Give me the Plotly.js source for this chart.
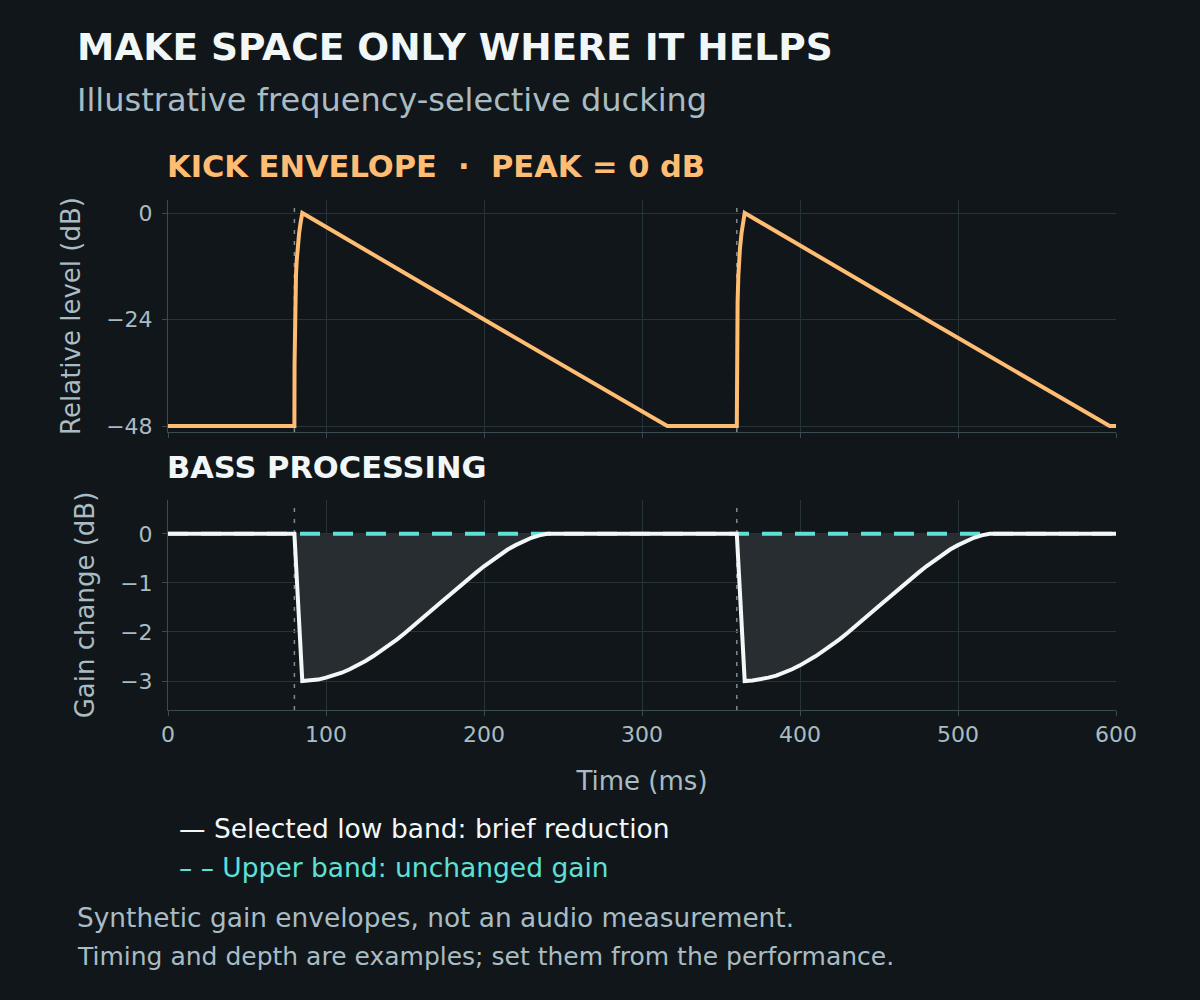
<!DOCTYPE html>
<html>
<head>
<meta charset="utf-8">
<script src="https://cdn.plot.ly/plotly-3.0.1.min.js"></script>
<style>
  html, body { margin: 0; padding: 0; background: #11161a; }
  #chart { width: 1200px; height: 1000px; }
</style>
</head>
<body>
<div id="chart"></div>
<script>
// kick envelope (ms, dB)
const kickTime = [0, 80, 80.1, 80.25, 80.5, 81, 81.5, 82, 83, 84, 85, 200, 316,
                  360, 360.1, 360.25, 360.5, 361, 361.5, 362, 363, 364, 365, 480, 596, 600];
const kickLevel = [-48, -48, -34, -26, -20, -14, -10.5, -8, -4.5, -2, 0, -24, -48,
                   -48, -34, -26, -20, -14, -10.5, -8, -4.5, -2, 0, -24, -48, -48];

// low band gain change (ms, dB)
const lowTime = [0, 80, 85, 90, 95, 100, 105, 110, 115, 120, 125, 130, 135, 140, 145, 150, 155, 160,
                 165, 170, 175, 180, 185, 190, 195, 200, 205, 210, 215, 220, 225, 230, 235, 240,
                 360, 365, 370, 375, 380, 385, 390, 395, 400, 405, 410, 415, 420, 425, 430, 435, 440,
                 445, 450, 455, 460, 465, 470, 475, 480, 485, 490, 495, 500, 505, 510, 515, 520, 600];
const lowGain = [0, 0, -3, -2.99, -2.97, -2.93, -2.89, -2.83, -2.76, -2.68, -2.59, -2.49, -2.38, -2.27, -2.15, -2.02, -1.89, -1.75,
                 -1.61, -1.47, -1.33, -1.19, -1.05, -0.92, -0.79, -0.66, -0.54, -0.43, -0.32, -0.23, -0.15, -0.08, -0.03, 0,
                 0, -3, -2.99, -2.97, -2.93, -2.89, -2.83, -2.76, -2.68, -2.59, -2.49, -2.38, -2.27, -2.15, -2.02, -1.89, -1.75,
                 -1.61, -1.47, -1.33, -1.19, -1.05, -0.92, -0.79, -0.66, -0.54, -0.43, -0.32, -0.23, -0.15, -0.08, -0.03, 0, 0];

// upper band stays flat
const upperTime = [0, 600];
const upperGain = [0, 0];

const kickOnsets = [80, 360];

const bg = '#11161a';
const gridColor = '#26343a';
const axisColor = '#3c4b51';
const mutedText = '#a9bcc3';
const orange = '#ffbd73';
const cyan = '#5fe0d6';
const white = '#f3f7f7';
const font = 'DejaVu Sans, sans-serif';

const data = [
    {
        x: kickTime, y: kickLevel, xaxis: 'x', yaxis: 'y',
        mode: 'lines', line: {color: orange, width: 4},
        hoverinfo: 'skip'
    },
    {
        x: lowTime, y: lowGain, xaxis: 'x2', yaxis: 'y2',
        mode: 'lines', line: {width: 0}, fill: 'tozeroy', fillcolor: '#272d31',
        hoverinfo: 'skip'
    },
    {
        x: upperTime, y: upperGain, xaxis: 'x2', yaxis: 'y2',
        mode: 'lines', line: {color: cyan, width: 4, dash: '20px,13px'},
        hoverinfo: 'skip'
    },
    {
        x: lowTime, y: lowGain, xaxis: 'x2', yaxis: 'y2',
        mode: 'lines', line: {color: white, width: 4},
        hoverinfo: 'skip'
    }
];

const shapes = [];
kickOnsets.forEach(t => {
    ['y', 'y2'].forEach(ax => {
        shapes.push({
            type: 'line', xref: ax === 'y' ? 'x' : 'x2', yref: ax + ' domain',
            x0: t, x1: t, y0: 0, y1: 0.99,
            line: {color: '#7d8d93', width: 1.5, dash: '4px,7px'},
            layer: 'below'
        });
    });
});

const axisCommon = {
    showgrid: true, gridcolor: gridColor, gridwidth: 1,
    showline: true, linecolor: axisColor, linewidth: 1,
    ticks: 'outside', ticklen: 5, tickcolor: axisColor,
    tickfont: {family: font, size: 22, color: mutedText},
    zeroline: false
};

// plot area spans 200..710 px, so paper y = (710 - py) / 510
function py(p) { return (710 - p) / 510; }
function px(p) { return (p - 3 - 168) / 948; }

function note(text, x, y, size, color, bold) {
    return {
        text: bold ? '<b>' + text + '</b>' : text,
        xref: 'paper', yref: 'paper', x: px(x), y: py(y),
        xanchor: 'left', yanchor: 'middle', showarrow: false,
        font: {family: font, size: size, color: color}
    };
}

const layout = {
    width: 1200, height: 1000,
    paper_bgcolor: bg, plot_bgcolor: bg,
    margin: {l: 168, r: 84, t: 200, b: 290},
    showlegend: false,
    xaxis: Object.assign({}, axisCommon, {
        domain: [0, 1], anchor: 'y', range: [0, 600], dtick: 100,
        showticklabels: false, matches: 'x2'
    }),
    yaxis: Object.assign({}, axisCommon, {
        domain: [py(432), 1], anchor: 'x', range: [-49.35, 2.93],
        tickvals: [0, -24, -48], ticklabelstandoff: 5,
        title: {text: 'Relative level (dB)', font: {family: font, size: 26, color: mutedText}, standoff: 18}
    }),
    xaxis2: Object.assign({}, axisCommon, {
        domain: [0, 1], anchor: 'y2', range: [0, 600], dtick: 100,
        title: {text: 'Time (ms)', font: {family: font, size: 26, color: mutedText}, standoff: 25}
    }),
    yaxis2: Object.assign({}, axisCommon, {
        domain: [0, py(500)], anchor: 'x2', range: [-3.59, 0.69],
        tickvals: [0, -1, -2, -3], ticklabelstandoff: 5,
        title: {text: 'Gain change (dB)', font: {family: font, size: 26, color: mutedText}, standoff: 18}
    }),
    shapes: shapes,
    annotations: [
        note('MAKE SPACE ONLY WHERE IT HELPS', 78, 47, 37.5, '#f1f6f6', true),
        note('Illustrative frequency-selective ducking', 78, 100, 32, mutedText, false),
        note('KICK ENVELOPE  ·  PEAK = 0 dB', 168, 166, 30.5, orange, true),
        note('BASS PROCESSING', 168, 467, 30.5, '#f1f6f6', true),
        note('— Selected low band: brief reduction', 180, 828, 26.5, white, false),
        note('– – Upper band: unchanged gain', 180, 867, 26.5, cyan, false),
        note('Synthetic gain envelopes, not an audio measurement.', 78, 917, 26.4, mutedText, false),
        note('Timing and depth are examples; set them from the performance.', 78, 956, 25, mutedText, false)
    ]
};

Plotly.newPlot('chart', data, layout, {displayModeBar: false, staticPlot: true});
</script>
</body>
</html>
